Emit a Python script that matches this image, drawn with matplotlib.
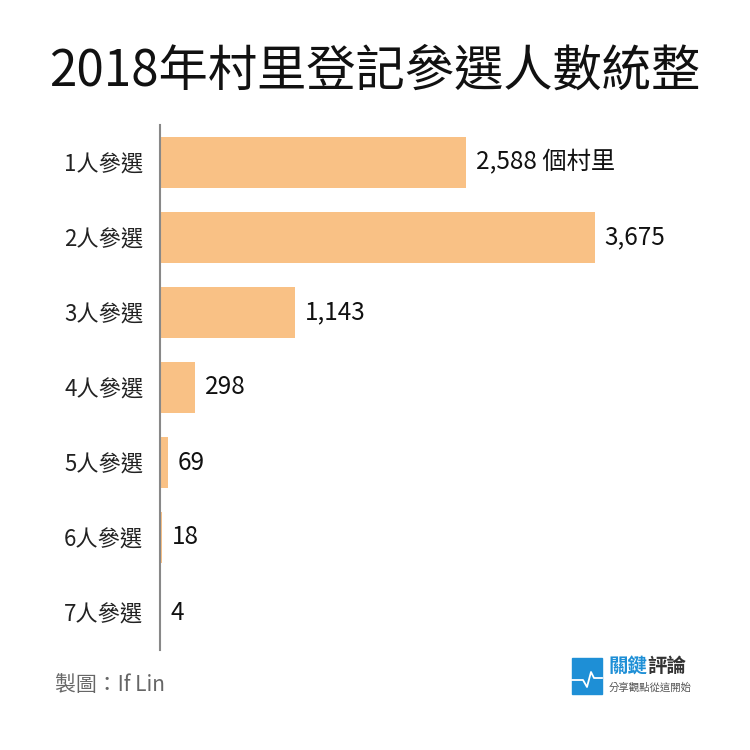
import matplotlib
matplotlib.use("Agg")
import matplotlib.pyplot as plt
from matplotlib.patches import Rectangle
from matplotlib.lines import Line2D

plt.rcParams['font.family'] = ['Noto Sans CJK TC', 'DejaVu Sans']

categories = ["1人參選", "2人參選", "3人參選", "4人參選", "5人參選", "6人參選", "7人參選"]
values = [2588, 3675, 1143, 298, 69, 18, 4]
value_labels = ["2,588 個村里", "3,675", "1,143", "298", "69", "18", "4"]
title = "2018年村里登記參選人數統整"
credit = "製圖：If Lin"

fig = plt.figure(figsize=(7.5, 7.5), dpi=100)
fig.patch.set_facecolor("white")
ax = fig.add_axes([160/750, 100/750, 590/750, 525/750])
ypos = list(range(len(values)))
ax.barh(ypos, values, height=0.69, color="#F9C185", zorder=2)
ax.set_xlim(0, 3675 * 590 / 435)
ax.set_ylim(6.5, -0.5)
for s in ["top", "right", "bottom"]:
    ax.spines[s].set_visible(False)
ax.spines["left"].set_color("#888888")
ax.spines["left"].set_linewidth(1.5)
ax.spines["left"].set_zorder(3)
ax.set_xticks([])
ax.set_yticks(ypos)
ax.set_yticklabels(categories, fontsize=16, color="#222222")
ax.tick_params(axis="y", length=0, pad=12)
for y, v, lab in zip(ypos, values, value_labels):
    ax.annotate(lab, xy=(v, y), xytext=(7, 0), textcoords="offset points",
                ha="left", va="center", fontsize=17.5, color="#111111")

fig.text(0.5, 1 - 72/750, title, ha="center", va="center", fontsize=35.5, color="#111111")
fig.text(55/750, 1 - 685/750, credit, ha="left", va="center", fontsize=15, color="#666666")

# logo
blue = "#1E8FD6"
fig.patches.append(Rectangle((572/750, 1 - 694/750), 30/750, 36/750,
                             transform=fig.transFigure, color=blue))
xs = [572, 583, 587, 591, 594, 602]
ys = [680, 680, 687, 672, 678, 678]
fig.lines.append(Line2D([x/750 for x in xs], [1 - y/750 for y in ys],
                        transform=fig.transFigure, color="white", lw=1.3))
fig.text(608/750, 1 - 667/750, "關鍵", ha="left", va="center", fontsize=14, color=blue, fontweight="bold")
fig.text(647/750, 1 - 667/750, "評論", ha="left", va="center", fontsize=14, color="#333333", fontweight="bold")
fig.text(609/750, 1 - 688/750, "分享觀點從這開始", ha="left", va="center", fontsize=7.5, color="#555555")

fig.savefig("out.png", dpi=100, facecolor="white")
